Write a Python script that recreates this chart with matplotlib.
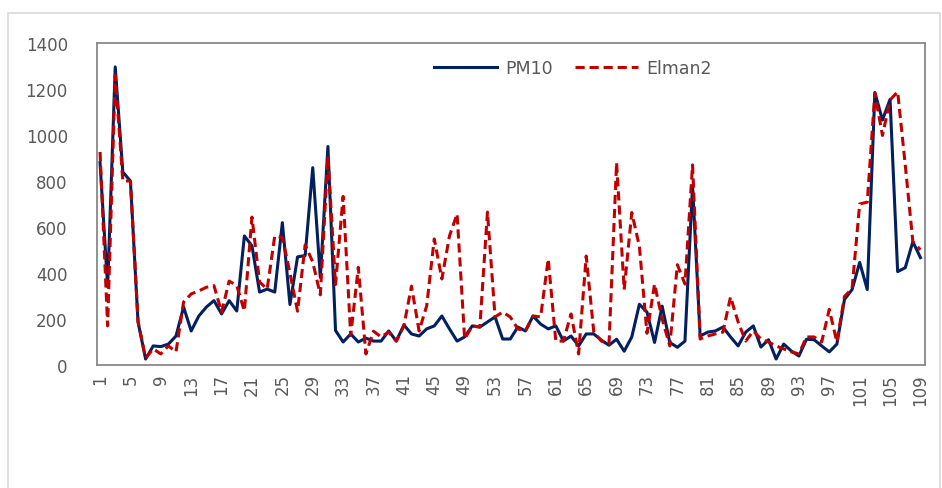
import matplotlib
matplotlib.use("Agg")
import matplotlib.pyplot as plt
from matplotlib.patches import Rectangle

x_index = list(range(1, 110))
pm10 = [880, 340, 1296, 839, 800, 187, 26, 83, 80, 91,
        126, 252, 148, 213, 252, 280, 222, 280, 235, 561,
        518, 317, 330, 317, 619, 263, 470, 476, 858, 381,
        950, 150, 100, 135, 100, 117, 104, 104, 148, 104,
        174, 135, 126, 157, 170, 213, 157, 104, 122, 170,
        165, 187, 209, 113, 113, 165, 148, 213, 178, 157,
        170, 104, 126, 83, 135, 135, 108, 86, 112, 60,
        122, 264, 230, 98, 256, 98, 77, 104, 780, 126,
        143, 148, 165, 122, 83, 143, 170, 78, 110, 26,
        91, 61, 39, 112, 110, 83, 57, 91, 285, 328,
        446, 328, 1185, 1065, 1155, 406, 423, 536, 467]
elman2 = [926, 170, 1260, 800, 800, 190, 30, 70, 48, 83,
          57, 274, 309, 322, 338, 345, 230, 365, 345, 235,
          643, 361, 330, 561, 555, 400, 234, 522, 448, 305,
          907, 350, 733, 128, 425, 48, 147, 122, 143, 104,
          170, 343, 148, 257, 548, 374, 561, 657, 113, 170,
          165, 665, 209, 230, 209, 157, 148, 213, 209, 461,
          104, 104, 222, 48, 474, 143, 104, 91, 880, 328,
          663, 516, 138, 352, 200, 83, 436, 352, 870, 113,
          126, 135, 143, 296, 187, 104, 148, 113, 100, 83,
          70, 57, 48, 122, 122, 100, 242, 100, 298, 332,
          700, 708, 1182, 998, 1152, 1188, 870, 536, 501]
tick_labels = [str(i) for i in range(1, 110, 4)]
y_ticks = [0, 200, 400, 600, 800, 1000, 1200, 1400]

fig = plt.figure(figsize=(9.42, 4.89), dpi=100)
fig.patches.append(Rectangle((8 / 942, -0.05), (940 - 8) / 942, (489 - 14) / 489 + 0.05,
                             transform=fig.transFigure, fill=False,
                             edgecolor="#D9D9D9", linewidth=1.2, zorder=0))

ax = fig.add_axes([97 / 942, 1 - 366 / 489, (925 - 97) / 942, (366 - 44) / 489])
ax.plot(x_index, pm10, color="#002060", linewidth=2.2, label="PM10",
        solid_joinstyle="round")
ax.plot(x_index, elman2, color="#C00000", linewidth=2.2, linestyle=(0, (3.0, 1.6)),
        label="Elman2")

ax.set_xlim(0.6, 109.6)
ax.set_ylim(0, 1400)
ax.set_yticks(y_ticks)
ax.set_yticklabels([str(v) for v in y_ticks])
ax.set_xticks(list(range(1, 110, 4)))
ax.set_xticklabels(tick_labels, rotation=90)
ax.tick_params(axis="both", length=0, labelsize=12, colors="#595959")
ax.tick_params(axis="y", pad=21)
ax.tick_params(axis="x", pad=6)
for s in ax.spines.values():
    s.set_color("#888888")
    s.set_linewidth(1.3)

leg = ax.legend(loc="upper center", bbox_to_anchor=(0.575, 1.0), ncol=2, frameon=False,
                fontsize=12.5, handlelength=3.6, columnspacing=1.3, handletextpad=0.5)
for t in leg.get_texts():
    t.set_color("#595959")

fig.savefig("out.png", dpi=100)
